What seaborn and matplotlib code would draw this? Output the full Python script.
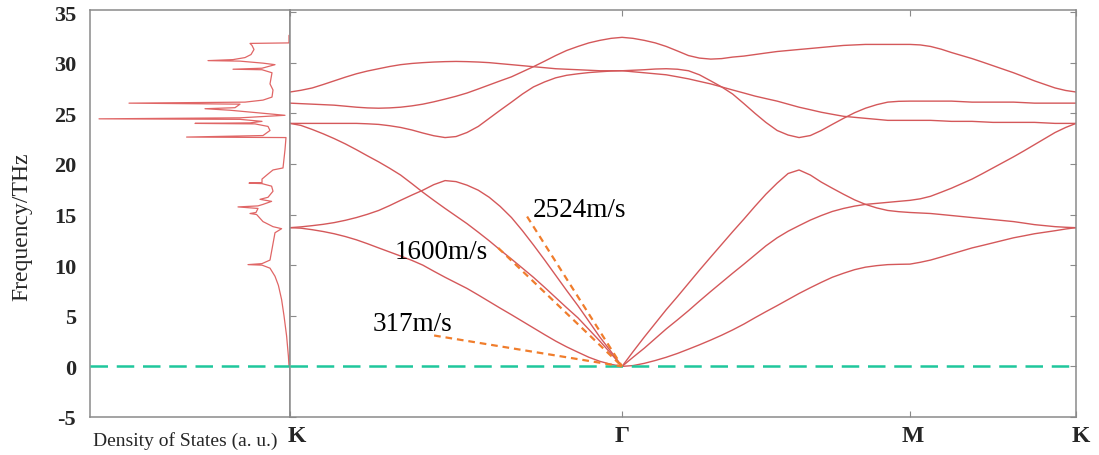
import numpy as np
import pandas as pd
import matplotlib
matplotlib.use("Agg")
import matplotlib.pyplot as plt
import matplotlib.transforms as mtrans
import seaborn as sns

# path coordinate along K-G-M-K (K-G length = 1)
k_kg = [0.000, 0.033, 0.067, 0.100, 0.133, 0.167, 0.200, 0.233, 0.267, 0.300,
        0.333, 0.367, 0.400, 0.433, 0.467, 0.500, 0.533, 0.567, 0.600, 0.633,
        0.667, 0.700, 0.733, 0.767, 0.800, 0.833, 0.867, 0.900, 0.933, 0.967,
        1.000]
k_gm = [1.000, 1.033, 1.067, 1.100, 1.133, 1.167, 1.200, 1.233, 1.267, 1.300,
        1.333, 1.367, 1.400, 1.433, 1.467, 1.500, 1.533, 1.567, 1.600, 1.633,
        1.667, 1.700, 1.733, 1.767, 1.800, 1.833, 1.867]
k_mk = [1.867, 1.898, 1.929, 1.961, 1.992, 2.023, 2.054, 2.086, 2.117, 2.148,
        2.179, 2.211, 2.242, 2.273, 2.304, 2.336, 2.367]

tick_pos = [0.0, 1.0, 1.867, 2.367]
tick_lab = ["K", "Γ", "M", "K"]

# phonon branches (THz), same branch order in each segment
bands_kg = [
    [13.7, 13.65, 13.5, 13.32, 13.1, 12.82, 12.5, 12.12, 11.7, 11.3, 10.9, 10.47,
     10.0, 9.4, 8.8, 8.25, 7.7, 7.05, 6.4, 5.75, 5.1, 4.45, 3.8, 3.13, 2.5, 1.93,
     1.4, 0.9, 0.5, 0.2, 0.0],
    [13.7, 13.78, 13.9, 14.03, 14.2, 14.43, 14.7, 15.02, 15.4, 15.88, 16.4, 16.92,
     17.4, 17.95, 18.35, 18.25, 17.9, 17.4, 16.7, 15.8, 14.7, 13.4, 12.0, 10.5,
     9.0, 7.5, 6.0, 4.45, 2.9, 1.45, 0.0],
    [24.0, 23.8, 23.4, 22.97, 22.5, 21.97, 21.4, 20.8, 20.2, 19.57, 18.9, 18.05,
     17.2, 16.4, 15.6, 14.85, 14.1, 13.25, 12.4, 11.5, 10.6, 9.7, 8.8, 7.8, 6.8,
     5.8, 4.8, 3.65, 2.5, 1.25, 0.0],
    [26.0, 25.95, 25.9, 25.85, 25.8, 25.7, 25.6, 25.53, 25.5, 25.53, 25.6, 25.73,
     25.9, 26.13, 26.4, 26.68, 27.0, 27.4, 27.8, 28.2, 28.6, 29.1, 29.6, 30.15,
     30.7, 31.2, 31.6, 31.95, 32.2, 32.4, 32.5],
    [24.0, 24.0, 24.0, 24.0, 24.0, 24.0, 24.0, 23.96, 23.9, 23.77, 23.6, 23.35,
     23.05, 22.78, 22.6, 22.7, 23.1, 23.7, 24.5, 25.3, 26.1, 26.9, 27.6, 28.1,
     28.5, 28.75, 28.9, 29.02, 29.1, 29.17, 29.2],
    [27.1, 27.27, 27.5, 27.84, 28.2, 28.57, 28.9, 29.17, 29.4, 29.62, 29.8, 29.92,
     30.0, 30.06, 30.1, 30.12, 30.1, 30.06, 30.0, 29.9, 29.8, 29.7, 29.6, 29.5,
     29.4, 29.35, 29.3, 29.25, 29.2, 29.2, 29.2],
]
bands_gm = [
    [0.0, 0.08, 0.3, 0.58, 0.9, 1.28, 1.7, 2.13, 2.6, 3.08, 3.6, 4.18, 4.8, 5.4,
     6.0, 6.6, 7.2, 7.77, 8.3, 8.8, 9.2, 9.55, 9.8, 9.95, 10.05, 10.08, 10.1],
    [0.0, 1.45, 2.9, 4.25, 5.6, 6.9, 8.2, 9.5, 10.8, 12.05, 13.3, 14.55, 15.8,
     17.0, 18.1, 19.05, 19.4, 18.9, 18.2, 17.6, 17.0, 16.45, 16.0, 15.65, 15.4,
     15.28, 15.2],
    [0.0, 0.9, 1.8, 2.75, 3.7, 4.6, 5.5, 6.45, 7.4, 8.3, 9.2, 10.1, 11.0, 11.9,
     12.7, 13.35, 13.9, 14.45, 14.9, 15.3, 15.6, 15.83, 16.0, 16.1, 16.2, 16.3, 16.4],
    [32.5, 32.4, 32.2, 31.95, 31.6, 31.15, 30.7, 30.45, 30.35, 30.4, 30.55, 30.65,
     30.8, 30.95, 31.1, 31.2, 31.3, 31.4, 31.5, 31.6, 31.7, 31.75, 31.8, 31.8,
     31.8, 31.8, 31.8],
    [29.2, 29.25, 29.3, 29.37, 29.4, 29.35, 29.2, 28.8, 28.2, 27.6, 26.9, 25.95,
     25.0, 24.1, 23.3, 22.85, 22.6, 22.8, 23.3, 23.9, 24.5, 25.05, 25.5, 25.85,
     26.1, 26.18, 26.2],
    [29.2, 29.1, 29.0, 28.9, 28.8, 28.6, 28.4, 28.15, 27.9, 27.6, 27.3, 27.0,
     26.7, 26.45, 26.2, 25.9, 25.6, 25.35, 25.1, 24.9, 24.7, 24.6, 24.5, 24.4,
     24.3, 24.3, 24.3],
]
bands_mk = [
    [10.1, 10.28, 10.5, 10.8, 11.1, 11.4, 11.7, 11.95, 12.2, 12.45, 12.7, 12.9,
     13.1, 13.25, 13.4, 13.57, 13.7],
    [15.2, 15.15, 15.1, 15.0, 14.9, 14.8, 14.7, 14.6, 14.5, 14.4, 14.3, 14.15,
     14.0, 13.9, 13.8, 13.74, 13.7],
    [16.4, 16.55, 16.8, 17.2, 17.6, 18.05, 18.5, 19.05, 19.6, 20.15, 20.7, 21.3,
     21.9, 22.5, 23.1, 23.6, 24.0],
    [31.8, 31.75, 31.6, 31.33, 31.0, 30.7, 30.4, 30.05, 29.7, 29.35, 29.0, 28.6,
     28.2, 27.85, 27.5, 27.25, 27.1],
    [26.2, 26.2, 26.2, 26.2, 26.2, 26.15, 26.1, 26.1, 26.1, 26.1, 26.1, 26.05,
     26.0, 26.0, 26.0, 26.0, 26.0],
    [24.3, 24.3, 24.3, 24.25, 24.2, 24.2, 24.2, 24.15, 24.1, 24.1, 24.1, 24.1,
     24.1, 24.05, 24.0, 24.0, 24.0],
]

# density of states (arbitrary units), traced upward in frequency
dos_freq = [0.0, 1.0, 3.0, 5.0, 6.6, 8.0, 8.9, 9.7, 10.0, 10.05, 10.15, 10.5,
            11.9, 13.2, 13.6, 13.8, 14.3, 15.0, 15.1, 15.2, 15.6, 15.75, 15.85,
            16.0, 16.3, 16.5, 16.7, 17.3, 17.8, 18.05, 18.1, 18.15, 18.5, 19.0,
            19.4, 19.6, 21.4, 22.6, 22.65, 22.8, 23.3, 23.7, 23.95, 24.0, 24.05,
            24.2, 24.4, 24.45, 24.55, 24.8, 25.3, 25.45, 25.55, 25.9, 26.0, 26.1,
            26.3, 26.6, 27.3, 27.9, 29.0, 29.3, 29.35, 29.45, 29.8, 29.95, 30.15,
            30.2, 30.3, 30.5, 30.8, 31.3, 31.7, 31.9, 31.95, 32.7]
dos_val = [0.05, 0.08, 0.17, 0.3, 0.42, 0.58, 0.75, 1.0, 1.4, 2.1, 1.4, 1.0,
           0.87, 0.75, 0.42, 0.85, 1.35, 1.67, 2.0, 1.7, 1.6, 2.6, 1.6,
           1.35, 0.92, 1.5, 1.1, 0.85, 0.92, 1.4, 2.05, 1.4, 1.4, 1.1,
           0.85, 0.35, 0.25, 0.2, 5.17, 1.35, 1.0, 1.1, 1.75, 4.75, 2.0,
           1.4, 2.5, 9.55, 2.5, 0.25, 3.0, 4.25, 2.75, 2.5, 8.05, 2.25,
           1.35, 0.9, 0.85, 1.0, 0.9, 1.4, 2.85, 1.4, 0.75, 1.35, 2.5,
           4.1, 2.85, 2.25, 1.95, 1.8, 1.9, 2.0, 0.05, 0.05]

# sound velocity guide lines: start point, they all end at Gamma (1, 0)
vel_labels = ["317m/s", "1600m/s", "2524m/s"]
vel_start_k = [0.434, 0.627, 0.714]
vel_start_f = [3.05, 11.7, 14.8]
vel_text_k = [0.25, 0.316, 0.732]
vel_text_f = [3.55, 10.7, 14.9]

sns.set_style("white")
plt.rcParams['font.family'] = ['Liberation Serif', 'DejaVu Serif']

band_color = '#d4585a'
spine_color = '#8a8a8a'

rows = []
for i in range(len(bands_kg)):
    ks = k_kg + k_gm[1:] + k_mk[1:]
    fs = bands_kg[i] + bands_gm[i][1:] + bands_mk[i][1:]
    for k, f in zip(ks, fs):
        rows.append({'k': k, 'freq': f, 'band': i})
df_bands = pd.DataFrame(rows)
df_dos = pd.DataFrame({'dos': dos_val, 'freq': dos_freq})

fig = plt.figure(figsize=(10.99, 4.56), dpi=100)
ax_dos = fig.add_axes([90 / 1099, 38 / 456, 200 / 1099, 407 / 456])
ax = fig.add_axes([290 / 1099, 38 / 456, 786 / 1099, 407 / 456])

# DOS panel
sns.lineplot(data=df_dos, x='dos', y='freq', sort=False, estimator=None,
             color='#e06666', lw=0.9, ax=ax_dos)
ax_dos.set_xlim(10, 0)
ax_dos.set_ylim(-5, 35.2)
ax_dos.set_xticks([])
ax_dos.set_yticks(range(-5, 36, 5))
ax_dos.set_yticklabels([str(v) for v in range(-5, 36, 5)],
                       fontsize=16, fontweight='bold')
ax_dos.tick_params(axis='y', direction='in', length=4, width=0.8,
                   color=spine_color, pad=10)
ax_dos.set_xlabel("Density of States (a. u.)", fontsize=14)
ax_dos.xaxis.set_label_coords(0.475, -0.035, transform=ax_dos.transAxes)
ax_dos.xaxis.label.set_va('top')
ax_dos.set_ylabel("Frequency/THz", fontsize=17)
ax_dos.yaxis.set_label_coords(-0.29, 0.47)

# band structure panel
sns.lineplot(data=df_bands, x='k', y='freq', units='band', estimator=None,
             sort=False, color=band_color, lw=1.0, ax=ax)
ax.set_xlim(tick_pos[0], tick_pos[-1])
ax.set_ylim(-5, 35.2)
ax.set_xticks(tick_pos)
ax.set_xticklabels(tick_lab, fontsize=17, fontweight='bold')
ax.set_yticks(range(-5, 36, 5))
ax.set_yticklabels([])
ax.tick_params(axis='both', direction='in', length=4, width=0.8,
               color=spine_color, top=True, right=True, left=True, bottom=True)
ax.tick_params(axis='x', pad=6)
ax.set_xlabel("")
ax.set_ylabel("")
shifts = [7, 0, 3, 5]
for lbl, dx in zip(ax.get_xticklabels(), shifts):
    lbl.set_transform(lbl.get_transform() +
                      mtrans.ScaledTranslation(dx / 100, 0, fig.dpi_scale_trans))

for a in (ax_dos, ax):
    for s in a.spines.values():
        s.set_color(spine_color)
        s.set_linewidth(1.1)
    a.axhline(0, color='#1fc79c', lw=1.8, ls=(0, (7, 3.5)), zorder=3)

# sound velocity guides
for lab, k0, f0, kt, ft in zip(vel_labels, vel_start_k, vel_start_f,
                               vel_text_k, vel_text_f):
    ax.plot([k0, 1.0], [f0, 0.0], color='#f07d2c', lw=1.6,
            ls=(0, (3, 2.2)), zorder=4)
    ax.text(kt, ft, lab, fontsize=19.5, ha='left', va='baseline', color='black')

fig.savefig("out.png", dpi=100, facecolor='white')
